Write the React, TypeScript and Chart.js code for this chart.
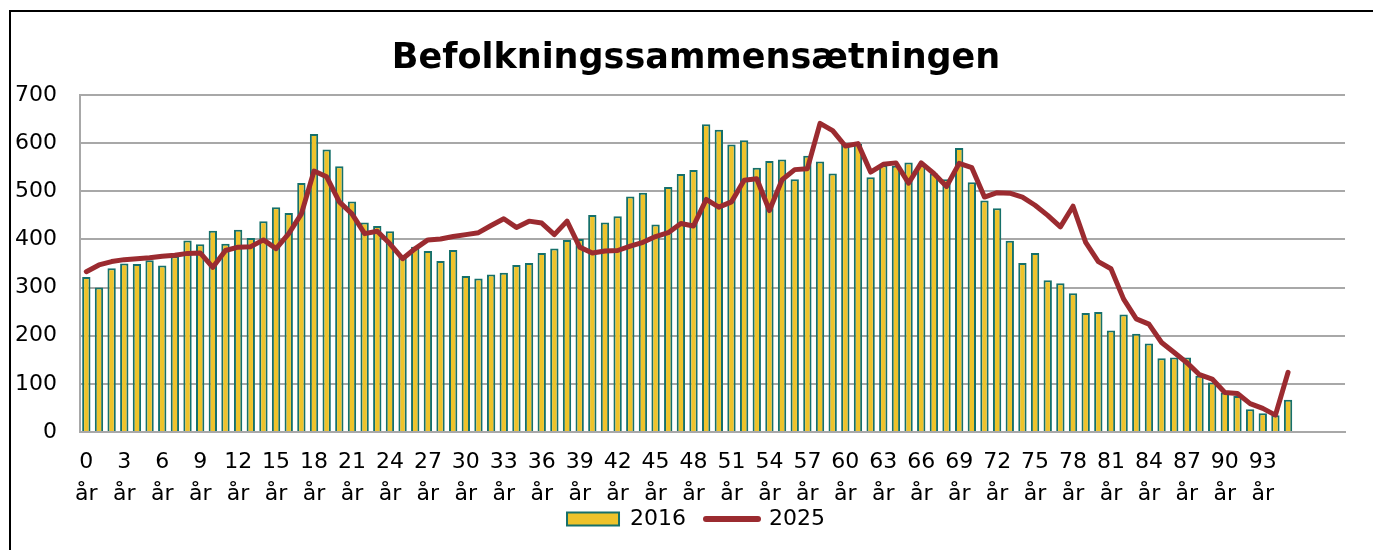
import React, { useEffect, useRef } from 'react';
import { Chart, registerables } from 'chart.js';

Chart.register(...registerables);

const categories = [
  '0 år', '1 år', '2 år', '3 år', '4 år', '5 år', '6 år', '7 år', '8 år', '9 år',
  '10 år', '11 år', '12 år', '13 år', '14 år', '15 år', '16 år', '17 år', '18 år', '19 år',
  '20 år', '21 år', '22 år', '23 år', '24 år', '25 år', '26 år', '27 år', '28 år', '29 år',
  '30 år', '31 år', '32 år', '33 år', '34 år', '35 år', '36 år', '37 år', '38 år', '39 år',
  '40 år', '41 år', '42 år', '43 år', '44 år', '45 år', '46 år', '47 år', '48 år', '49 år',
  '50 år', '51 år', '52 år', '53 år', '54 år', '55 år', '56 år', '57 år', '58 år', '59 år',
  '60 år', '61 år', '62 år', '63 år', '64 år', '65 år', '66 år', '67 år', '68 år', '69 år',
  '70 år', '71 år', '72 år', '73 år', '74 år', '75 år', '76 år', '77 år', '78 år', '79 år',
  '80 år', '81 år', '82 år', '83 år', '84 år', '85 år', '86 år', '87 år', '88 år', '89 år',
  '90 år', '91 år', '92 år', '93 år', '94 år', '95 år', '', '', '', '',
];

const pop2016 = [
  322, 300, 340, 350, 349, 357, 346, 365, 398, 390,
  418, 391, 420, 403, 438, 467, 455, 517, 619, 587,
  552, 479, 435, 428, 417, 365, 385, 376, 355, 378,
  324, 319, 327, 331, 347, 351, 372, 381, 399, 401,
  451, 435, 448, 489, 497, 431, 509, 536, 544, 639,
  628, 597, 606, 549, 563, 566, 525, 574, 562, 537,
  596, 598, 529, 554, 553, 560, 554, 537, 525, 590,
  519, 481, 465, 397, 351, 372, 315, 309, 288, 247,
  249, 211, 244, 204, 184, 153, 155, 155, 117, 103,
  82, 75, 47, 39, 35, 67, null, null, null, null,
];

const pop2025 = [
  333, 347, 354, 358, 360, 362, 365, 367, 371, 372,
  342, 377, 384, 385, 399, 381, 412, 453, 542, 530,
  478, 453, 412, 417, 391, 360, 381, 399, 401, 406,
  410, 414, 429, 443, 425, 438, 434, 410, 438, 384,
  372, 376, 377, 386, 394, 406, 414, 433, 428, 483,
  467, 478, 523, 526, 460, 524, 545, 547, 641, 626,
  594, 599, 540, 556, 559, 517, 559, 537, 510, 558,
  549, 488, 497, 496, 488, 471, 450, 426, 469, 394,
  354, 339, 276, 235, 224, 186, 165, 144, 119, 110,
  82, 80, 59, 49, 35, 124, null, null, null, null,
];

const yTicks = [0, 100, 200, 300, 400, 500, 600, 700];

const FONT = "'DejaVu Sans', sans-serif";
const GRID = '#A8A8A8';
const BAR_FILL = '#EEC32B';
const BAR_EDGE = '#16706A';
const LINE_COLOR = '#9B2B30';

export default function App() {
  const ref = useRef<HTMLCanvasElement>(null);

  useEffect(() => {
    if (!ref.current) return;
    const framePlugin = {
      id: 'frame',
      afterLayout(chart: any) {
        // widen the label clip boxes of the scales (their label positions stay put)
        if (chart.scales.y) chart.scales.y.left = 0;
        if (chart.scales.x) chart.scales.x.bottom = chart.height;
      },
      afterDraw(chart: any) {
        const ctx = chart.ctx;
        ctx.save();
        ctx.strokeStyle = '#000';
        ctx.lineWidth = 2;
        ctx.beginPath();
        ctx.moveTo(10, 560);
        ctx.lineTo(10, 11);
        ctx.lineTo(1380, 11);
        ctx.stroke();
        ctx.restore();
      },
    };

    const chart = new Chart(ref.current, {
      type: 'bar',
      data: {
        labels: categories,
        datasets: [
          {
            type: 'bar',
            label: '2016',
            data: pop2016,
            backgroundColor: BAR_FILL,
            borderColor: BAR_EDGE,
            borderWidth: 2,
            barPercentage: 0.66,
            categoryPercentage: 1,
            order: 1,
          } as any,
          {
            type: 'line',
            label: '2025',
            data: pop2025,
            borderColor: LINE_COLOR,
            backgroundColor: LINE_COLOR,
            borderWidth: 5,
            pointRadius: 0,
            tension: 0,
            borderJoinStyle: 'round',
            borderCapStyle: 'round',
            order: 0,
          } as any,
        ],
      },
      options: {
        responsive: false,
        animation: false,
        events: [],
        layout: { padding: { left: 47, right: 28, top: 0, bottom: 10 } },
        plugins: {
          tooltip: { enabled: false },
          title: {
            display: true,
            text: 'Befolkningssammensætningen',
            color: '#000',
            font: { family: FONT, size: 35, weight: 'bold', lineHeight: 1.2 },
            padding: { top: 38, bottom: 15 },
          },
          legend: {
            display: true,
            position: 'bottom',
            labels: {
              usePointStyle: true,
              pointStyleWidth: 52,
              boxHeight: 13,
              padding: 20,
              color: '#000',
              font: { family: FONT, size: 22 },
              generateLabels: (c: any) =>
                c.data.datasets.map((ds: any, i: number) => ({
                  text: ds.label,
                  datasetIndex: i,
                  hidden: false,
                  fontColor: '#000',
                  fillStyle: ds.type === 'line' ? LINE_COLOR : BAR_FILL,
                  strokeStyle: ds.type === 'line' ? LINE_COLOR : BAR_EDGE,
                  lineWidth: ds.type === 'line' ? 6 : 2,
                  lineCap: 'round',
                  pointStyle: ds.type === 'line' ? 'line' : 'rect',
                })),
            },
          },
        },
        scales: {
          x: {
            grid: { display: false, drawTicks: false },
            border: { display: true, color: GRID, width: 2 },
            ticks: {
              autoSkip: false,
              maxRotation: 0,
              minRotation: 0,
              padding: 14,
              color: '#000',
              font: { family: FONT, size: 22, lineHeight: 1.45 },
              callback: (_v: any, index: number) => {
                const lbl = categories[index];
                if (index % 3 !== 0 || !lbl) return '';
                return lbl.split(' ');
              },
            },
            afterFit: (s: any) => {
              s.height = 56;
            },
          },
          y: {
            min: 0,
            max: 700,
            grid: { color: GRID, lineWidth: 2, drawTicks: false },
            border: { display: true, color: GRID, width: 2 },
            ticks: {
              padding: 23,
              color: '#000',
              font: { family: FONT, size: 22 },
            },
            afterBuildTicks: (s: any) => {
              s.ticks = yTicks.map((v) => ({ value: v }));
            },
            afterFit: (s: any) => {
              s.width = 33;
            },
          },
        },
      } as any,
      plugins: [framePlugin],
    });

    return () => chart.destroy();
  }, []);

  return (
    <div style={{ position: 'fixed', left: 0, top: 0, width: 1373, height: 550, background: '#fff' }}>
      <canvas ref={ref} width={1373} height={550} style={{ display: 'block' }} />
    </div>
  );
}
